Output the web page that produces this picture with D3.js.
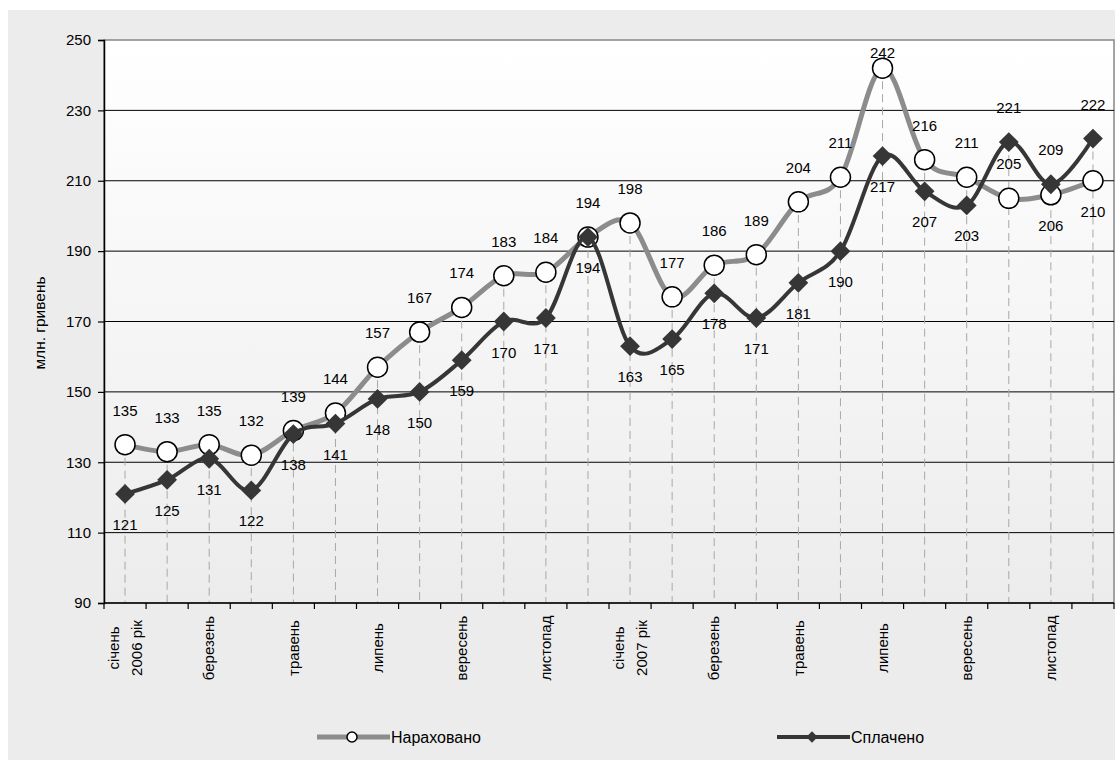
<!DOCTYPE html>
<html>
<head>
<meta charset="utf-8">
<script src="https://cdn.jsdelivr.net/npm/d3@7"></script>
<style>
  body { margin: 0; background: #fff; }
  svg text { font-family: "Liberation Sans", Arial, sans-serif; fill: #000; }
</style>
</head>
<body>
<svg id="chart" width="1115" height="760"></svg>
<script>
var months = ["січень 2006", "лютий 2006", "березень 2006", "квітень 2006", "травень 2006", "червень 2006",
              "липень 2006", "серпень 2006", "вересень 2006", "жовтень 2006", "листопад 2006", "грудень 2006",
              "січень 2007", "лютий 2007", "березень 2007", "квітень 2007", "травень 2007", "червень 2007",
              "липень 2007", "серпень 2007", "вересень 2007", "жовтень 2007", "листопад 2007", "грудень 2007"];
var tickLabels = [["січень", "2006 рік"], [], ["березень"], [], ["травень"], [], ["липень"], [], ["вересень"], [], ["листопад"], [],
                  ["січень", "2007 рік"], [], ["березень"], [], ["травень"], [], ["липень"], [], ["вересень"], [], ["листопад"], []];
var accrued = [135, 133, 135, 132, 139, 144, 157, 167, 174, 183, 184, 194,
               198, 177, 186, 189, 204, 211, 242, 216, 211, 205, 206, 210];
var paid = [121, 125, 131, 122, 138, 141, 148, 150, 159, 170, 171, 194,
            163, 165, 178, 171, 181, 190, 217, 207, 203, 221, 209, 222];
// where the value label sits: 1 = above the point, -1 = below
var accruedSide = [1, 1, 1, 1, 1, 1, 1, 1, 1, 1, 1, 1, 1, 1, 1, 1, 1, 1, 1, 1, 1, 1, -1, -1];
var paidSide = [-1, -1, -1, -1, -1, -1, -1, -1, -1, -1, -1, -1, -1, -1, -1, -1, -1, -1, -1, -1, -1, 1, 1, 1];
var yTicks = [90, 110, 130, 150, 170, 190, 210, 230, 250];
var seriesNames = ["Нараховано", "Сплачено"];

var svg = d3.select('#chart'),
    plotLeft = 104, plotRight = 1114, plotTop = 40, plotBottom = 603,
    accruedColor = '#8c8c8c',
    paidColor = '#363636';

var defs = svg.append('defs');
var grad = defs.append('linearGradient').attr('id', 'plotbg')
               .attr('x1', 0).attr('y1', 0).attr('x2', 0).attr('y2', 1);
grad.append('stop').attr('offset', '0%').attr('stop-color', '#ffffff');
grad.append('stop').attr('offset', '100%').attr('stop-color', '#ececec');

// page background
svg.append('rect')
   .attr('x', 8).attr('y', 10)
   .attr('width', 1107).attr('height', 750)
   .attr('fill', '#ececec');

var x = d3.scaleBand().domain(months).range([plotLeft, plotRight]).padding(0),
    y = d3.scaleLinear().domain([90, 250]).range([plotBottom, plotTop]);

function cx(m) { return x(m) + x.bandwidth() / 2; }

// plot area
svg.append('rect')
   .attr('x', plotLeft).attr('y', plotTop)
   .attr('width', plotRight - plotLeft).attr('height', plotBottom - plotTop)
   .attr('fill', 'url(#plotbg)')
   .attr('stroke', '#888').attr('stroke-width', 1.5);

// horizontal gridlines
svg.append('g')
   .selectAll('line')
   .data(yTicks.filter(function(t){ return t > 90 && t < 250; }))
   .join('line')
   .attr('x1', plotLeft).attr('x2', plotRight)
   .attr('y1', function(d){ return y(d); })
   .attr('y2', function(d){ return y(d); })
   .attr('stroke', '#000').attr('stroke-width', 1);

// drop lines
svg.append('g')
   .selectAll('line')
   .data(months)
   .join('line')
   .attr('x1', function(d){ return cx(d); })
   .attr('x2', function(d){ return cx(d); })
   .attr('y1', function(d, i){ return y(Math.max(accrued[i], paid[i])); })
   .attr('y2', plotBottom)
   .attr('stroke', '#a8a8a8').attr('stroke-width', 1)
   .attr('stroke-dasharray', '8,5');

// axes
var yAxis = d3.axisLeft(y).tickValues(yTicks).tickSize(6).tickPadding(7);
var gy = svg.append('g').attr('transform', 'translate(' + plotLeft + ',0)').call(yAxis);
gy.select('.domain').attr('stroke', '#000').attr('stroke-width', 1.5);
gy.selectAll('.tick line').attr('stroke', '#000').attr('stroke-width', 1.2);
gy.selectAll('.tick text').style('font-size', '15px').style('font-family', '"Liberation Sans", Arial, sans-serif');

svg.append('line')
   .attr('x1', plotLeft).attr('x2', plotRight)
   .attr('y1', plotBottom).attr('y2', plotBottom)
   .attr('stroke', '#000').attr('stroke-width', 1.5);

svg.append('g')
   .selectAll('line')
   .data(months.concat(['end']))
   .join('line')
   .attr('x1', function(d){ return d === 'end' ? plotRight : x(d); })
   .attr('x2', function(d){ return d === 'end' ? plotRight : x(d); })
   .attr('y1', plotBottom).attr('y2', plotBottom + 6)
   .attr('stroke', '#000').attr('stroke-width', 1.2);

// month labels
var xl = svg.append('g').attr('class', 'x-labels');
months.forEach(function(m, i){
  var lines = tickLabels[i];
  lines.forEach(function(t, j){
    var off = lines.length === 1 ? 0 : (j === 0 ? -11.5 : 11.5);
    xl.append('text')
      .attr('transform', 'translate(' + (cx(m) + off) + ',' + 648 + ') rotate(-90)')
      .attr('text-anchor', 'middle')
      .attr('dy', '0.35em')
      .style('font-size', '15px')
      .text(t);
  });
});

// y title
svg.append('text')
   .attr('transform', 'translate(40,' + 323 + ') rotate(-90)')
   .attr('text-anchor', 'middle')
   .attr('dy', '0.35em')
   .style('font-size', '15.5px')
   .text('млн. гривень');

var curve = d3.curveCardinal.tension(0);

// Нараховано
svg.append('path')
   .datum(accrued)
   .attr('fill', 'none')
   .attr('stroke', accruedColor)
   .attr('stroke-width', 5)
   .attr('d', d3.line()
     .x(function(d, i){ return cx(months[i]); })
     .y(function(d){ return y(d); })
     .curve(curve));

svg.append('g')
   .selectAll('circle')
   .data(accrued)
   .join('circle')
   .attr('cx', function(d, i){ return cx(months[i]); })
   .attr('cy', function(d){ return y(d); })
   .attr('r', 10)
   .attr('fill', '#fff')
   .attr('stroke', '#000')
   .attr('stroke-width', 1.5);

// Сплачено
svg.append('path')
   .datum(paid)
   .attr('fill', 'none')
   .attr('stroke', paidColor)
   .attr('stroke-width', 4)
   .attr('d', d3.line()
     .x(function(d, i){ return cx(months[i]); })
     .y(function(d){ return y(d); })
     .curve(curve));

svg.append('g')
   .selectAll('rect')
   .data(paid)
   .join('rect')
   .attr('x', -7).attr('y', -7)
   .attr('width', 14).attr('height', 14)
   .attr('transform', function(d, i){ return 'translate(' + cx(months[i]) + ',' + y(d) + ') rotate(45)'; })
   .attr('fill', paidColor);

// value labels (kept inside the plot area, like the original)
function valueLabels(data, side) {
  svg.append('g')
     .selectAll('text')
     .data(data)
     .join('text')
     .attr('x', function(d, i){ return cx(months[i]); })
     .attr('y', function(d, i){ return Math.max(plotTop + 18, y(d) + (side[i] > 0 ? -29 : 36)); })
     .attr('text-anchor', 'middle')
     .style('font-size', '15px')
     .text(function(d){ return d; });
}
valueLabels(accrued, accruedSide);
valueLabels(paid, paidSide);

// legend
var lg1 = svg.append('g').attr('transform', 'translate(317,737)');
lg1.append('line').attr('x1', 0).attr('x2', 73).attr('y1', 0).attr('y2', 0)
   .attr('stroke', accruedColor).attr('stroke-width', 5);
lg1.append('circle').attr('cx', 35).attr('cy', 0).attr('r', 5)
   .attr('fill', '#fff').attr('stroke', '#000').attr('stroke-width', 1.5);
lg1.append('text').attr('x', 74).attr('dy', '0.35em').style('font-size', '16px').text(seriesNames[0]);

var lg2 = svg.append('g').attr('transform', 'translate(777,737)');
lg2.append('line').attr('x1', 0).attr('x2', 73).attr('y1', 0).attr('y2', 0)
   .attr('stroke', paidColor).attr('stroke-width', 4);
lg2.append('rect').attr('x', -4).attr('y', -4).attr('width', 8).attr('height', 8)
   .attr('transform', 'translate(35,0) rotate(45)').attr('fill', paidColor);
lg2.append('text').attr('x', 74).attr('dy', '0.35em').style('font-size', '16px').text(seriesNames[1]);
</script>
</body>
</html>
